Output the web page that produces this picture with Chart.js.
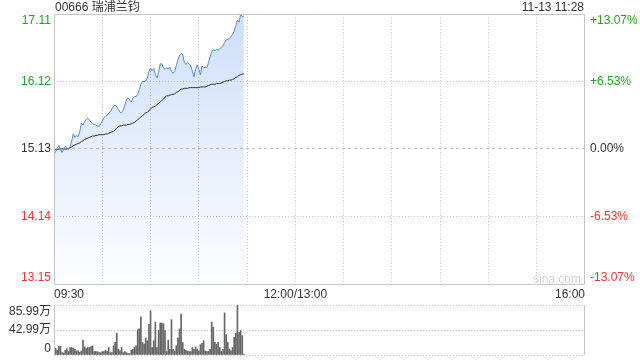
<!DOCTYPE html>
<html>
<head>
<meta charset="utf-8">
<script src="https://cdn.jsdelivr.net/npm/chart.js@4/dist/chart.umd.min.js"></script>
<style>
  body { margin: 0; background: #fff; }
  #wrap { position: relative; width: 640px; height: 360px; font-family: "Liberation Sans", Arial, "Noto Sans CJK SC", sans-serif; color: #333; }
  canvas { position: absolute; left: 0; }
  .txt { position: absolute; font-size: 12px; line-height: 14px; white-space: nowrap; }
</style>
</head>
<body>
<div id="wrap">
  <canvas id="priceChart" width="640" height="300" style="top:0"></canvas>
  <canvas id="volChart" width="640" height="60" style="top:300px"></canvas>
  <div class="txt" style="left:55px; top:0">00666 瑞浦兰钧</div>
  <div class="txt" style="right:56px; top:0">11-13 11:28</div>
  <div class="txt" style="left:533px; top:272px; color:#d4d4d4">sina.com</div>
</div>
<script>
// 每分钟成交价（09:30 起）
var prices = [
  15.05, 15.09, 15.14, 15.18, 15.13, 15.08, 15.12, 15.17, 15.15, 15.12,
  15.16, 15.25, 15.35, 15.30, 15.33, 15.31, 15.38, 15.51, 15.48, 15.53,
  15.56, 15.58, 15.56, 15.52, 15.50, 15.49, 15.48, 15.47, 15.46, 15.50,
  15.54, 15.59, 15.61, 15.62, 15.66, 15.67, 15.72, 15.76, 15.77, 15.75,
  15.71, 15.67, 15.66, 15.70, 15.77, 15.85, 15.88, 15.85, 15.82, 15.88,
  15.90, 15.90, 15.93, 16.00, 16.08, 16.12, 16.12, 16.13, 16.17, 16.27,
  16.32, 16.28, 16.31, 16.22, 16.17, 16.25, 16.38, 16.38, 16.32, 16.30,
  16.32, 16.30, 16.33, 16.27, 16.24, 16.27, 16.35, 16.44, 16.50, 16.53,
  16.52, 16.40, 16.37, 16.40, 16.38, 16.35, 16.27, 16.19, 16.30, 16.36,
  16.30, 16.22, 16.35, 16.32, 16.33, 16.32, 16.40, 16.48, 16.55, 16.59,
  16.57, 16.59, 16.58, 16.60, 16.62, 16.64, 16.69, 16.73, 16.74, 16.75,
  16.78, 16.81, 16.86, 16.94, 17.02, 16.99, 17.11, 17.07, 17.08
]

// 均价
var avgPrices = [
  15.12, 15.12, 15.12, 15.13, 15.13, 15.13, 15.13, 15.13, 15.13, 15.14,
  15.15, 15.16, 15.18, 15.19, 15.20, 15.21, 15.22, 15.24, 15.25, 15.27,
  15.28, 15.29, 15.30, 15.31, 15.32, 15.32, 15.33, 15.33, 15.34, 15.34,
  15.34, 15.34, 15.35, 15.35, 15.36, 15.37, 15.38, 15.39, 15.41, 15.44,
  15.46, 15.47, 15.47, 15.48, 15.48, 15.48, 15.49, 15.49, 15.50, 15.51,
  15.52, 15.54, 15.56, 15.58, 15.60, 15.62, 15.64, 15.66, 15.67, 15.69,
  15.72, 15.74, 15.75, 15.76, 15.78, 15.80, 15.82, 15.84, 15.86, 15.89,
  15.91, 15.91, 15.92, 15.93, 15.93, 15.94, 15.96, 15.97, 15.99, 16.01,
  16.01, 16.02, 16.02, 16.02, 16.03, 16.03, 16.03, 16.03, 16.03, 16.03,
  16.03, 16.04, 16.04, 16.04, 16.04, 16.05, 16.06, 16.07, 16.08, 16.08,
  16.08, 16.09, 16.09, 16.09, 16.10, 16.11, 16.12, 16.13, 16.13, 16.14,
  16.14, 16.15, 16.16, 16.18, 16.19, 16.21, 16.22, 16.23, 16.23
]

// 成交量（万股）
var volumes = [
  5.9, 11.7, 8.0, 15.2, 15.2, 4.1, 3.5, 8.2, 11.1, 6.0,
  12.9, 12.9, 11.7, 9.9, 7.0, 7.0, 4.7, 7.0, 25.7, 14.0,
  11.1, 12.9, 12.9, 14.6, 15.8, 5.9, 5.9, 5.9, 4.1, 4.1,
  5.9, 5.9, 8.2, 5.9, 12.9, 4.1, 4.1, 15.8, 21.6, 37.4,
  9.9, 7.0, 12.9, 4.1, 5.9, 4.1, 3.0, 2.3, 8.2, 9.9,
  12.9, 15.8, 43.3, 45.0, 65.5, 21.6, 18.7, 29.3, 24.6, 52.7,
  76.0, 12.9, 24.6, 56.7, 12.9, 42.1, 55.0, 55.0, 53.8, 42.1,
  5.9, 25.7, 9.9, 60.8, 9.9, 7.0, 15.8, 29.3, 45.0, 70.2,
  21.6, 9.9, 8.2, 7.0, 5.9, 5.9, 12.9, 9.9, 14.0, 10.0,
  7.0, 17.6, 19.9, 24.6, 7.0, 5.9, 5.9, 9.9, 56.7, 48.0,
  21.6, 18.7, 21.6, 12.9, 5.9, 9.9, 72.5, 35.1, 21.6, 9.9,
  7.0, 12.9, 30.4, 37.4, 85.99, 39.2, 42.1, 33.3, 1.5
]

// 坐标轴刻度
var priceTicks = [13.15, 14.14, 15.13, 16.12, 17.11]
var priceLabels = ['13.15', '14.14', '15.13', '16.12', '17.11']
var pctLabels = ['-13.07%', '-6.53%', '0.00%', '+6.53%', '+13.07%']
var volTicks = [0, 42.99, 85.99]
var volLabels = ['0', '42.99万', '85.99万']
var timeTickPos = [0, 150, 330]
var timeLabels = ['09:30', '12:00/13:00', '16:00']
var prevClose = 15.13
var totalMinutes = 330

var green = '#1ea51e'
var red = '#f03232'
var gridColor = '#c9c9c9'
var fontStr = '12px "Liberation Sans", Arial, "Noto Sans CJK SC", sans-serif'

function toPoints(arr) {
  return arr.map(function (v, i) { return { x: i, y: v } })
}

function setTicks(list) {
  return function (scale) {
    scale.ticks = list.map(function (v) { return { value: v } })
  }
}

function valueColor(v) {
  if (Math.abs(v - prevClose) < 0.001) return '#333'
  return v > prevClose ? green : red
}

// 画四周实线边框
var framePlugin = {
  id: 'frame',
  afterDraw: function (chart, args, opts) {
    var a = chart.chartArea
    var c = chart.ctx
    c.save()
    c.strokeStyle = '#c4c4c4'
    c.lineWidth = 1
    c.beginPath()
    if (opts.sides === 'lr') {
      c.moveTo(Math.round(a.left) + 0.5, a.top)
      c.lineTo(Math.round(a.left) + 0.5, a.bottom)
      c.moveTo(Math.round(a.right) - 0.5, a.top)
      c.lineTo(Math.round(a.right) - 0.5, a.bottom)
    } else {
      c.rect(Math.round(a.left) + 0.5, Math.round(a.top) + 0.5,
        Math.round(a.right - a.left) - 1, Math.round(a.bottom - a.top))
    }
    c.stroke()
    c.restore()
  }
}

// 两侧刻度文字，首尾收进图内
var sideLabelPlugin = {
  id: 'sideLabels',
  afterDraw: function (chart, args, opts) {
    var a = chart.chartArea
    var scale = chart.scales.y
    var c = chart.ctx
    c.save()
    c.font = fontStr
    c.textBaseline = 'middle'
    opts.values.forEach(function (v, i) {
      var y = scale.getPixelForValue(v)
      y = Math.min(Math.max(y, a.top + 7), a.bottom - 6)
      c.fillStyle = opts.colored ? valueColor(v) : '#333'
      c.textAlign = 'right'
      c.fillText(opts.left[i], a.left - 3, y)
      if (opts.right) {
        c.textAlign = 'left'
        c.fillText(opts.right[i], a.right + 5, y)
      }
    })
    c.restore()
  }
}

var baseFont = { family: '"Liberation Sans", Arial, "Noto Sans CJK SC", sans-serif', size: 12 }

var pctx = document.getElementById('priceChart').getContext('2d')
var priceChart = new Chart(pctx, {
  type: 'line',
  data: {
    datasets: [
      {
        label: '价格',
        data: toPoints(prices),
        borderColor: '#4f8ae6',
        borderWidth: 1,
        pointRadius: 0,
        fill: 'start',
        backgroundColor: function (context) {
          var area = context.chart.chartArea
          if (!area) return 'rgba(74,134,232,0.15)'
          var g = context.chart.ctx.createLinearGradient(0, area.top, 0, area.bottom)
          g.addColorStop(0, 'rgba(74,134,232,0.27)')
          g.addColorStop(1, 'rgba(74,134,232,0.01)')
          return g
        }
      },
      {
        label: '均价',
        data: toPoints(avgPrices),
        borderColor: '#2b2b2b',
        borderWidth: 1,
        pointRadius: 0,
        fill: false
      }
    ]
  },
  options: {
    responsive: false,
    animation: false,
    layout: { padding: { top: 14, left: 0, right: 55, bottom: 0 } },
    plugins: {
      legend: { display: false },
      tooltip: { enabled: false },
      filler: { drawTime: 'beforeDatasetsDraw' },
      frame: {},
      sideLabels: { values: priceTicks, left: priceLabels, right: pctLabels, colored: true }
    },
    scales: {
      x: {
        type: 'linear',
        min: 0,
        max: totalMinutes,
        afterBuildTicks: function (scale) {
          var t = []
          for (var m = 0; m <= totalMinutes; m += 30) t.push({ value: m })
          scale.ticks = t
        },
        afterFit: function (scale) { scale.height = 16 },
        ticks: {
          autoSkip: false,
          maxRotation: 0,
          padding: 3,
          align: 'inner',
          color: '#333',
          font: baseFont,
          callback: function (v) {
            var i = timeTickPos.indexOf(v)
            return i >= 0 ? timeLabels[i] : ''
          }
        },
        grid: {
          drawTicks: false,
          color: function (ctx) {
            var v = ctx.tick && ctx.tick.value
            return (v === 0 || v === totalMinutes) ? 'rgba(0,0,0,0)' : gridColor
          }
        },
        border: { display: false, dash: [1, 2] }
      },
      y: {
        position: 'left',
        min: priceTicks[0],
        max: priceTicks[priceTicks.length - 1],
        afterBuildTicks: setTicks(priceTicks),
        afterFit: function (scale) { scale.width = 54 },
        ticks: { display: false },
        grid: {
          drawTicks: false,
          color: function (ctx) {
            var v = ctx.tick && ctx.tick.value
            return (v === priceTicks[0] || v === priceTicks[priceTicks.length - 1]) ? 'rgba(0,0,0,0)' : gridColor
          }
        },
        border: {
          display: false,
          dash: function (ctx) {
            return ctx.tick && Math.abs(ctx.tick.value - prevClose) < 0.001 ? [3, 3] : [1, 2]
          }
        }
      }
    }
  },
  plugins: [framePlugin, sideLabelPlugin]
})

var vctx = document.getElementById('volChart').getContext('2d')
var volChart = new Chart(vctx, {
  type: 'bar',
  data: {
    datasets: [
      {
        label: '成交量',
        data: toPoints(volumes),
        backgroundColor: '#666666',
        barThickness: 1
      }
    ]
  },
  options: {
    responsive: false,
    animation: false,
    layout: { padding: { top: 5, left: 0, right: 55, bottom: 5 } },
    plugins: {
      legend: { display: false },
      tooltip: { enabled: false },
      frame: { sides: 'lr' },
      sideLabels: { values: volTicks, left: volLabels, colored: false }
    },
    scales: {
      x: {
        type: 'linear',
        min: 0,
        max: totalMinutes,
        offset: false,
        display: false
      },
      y: {
        min: volTicks[0],
        max: volTicks[volTicks.length - 1],
        afterBuildTicks: setTicks(volTicks),
        afterFit: function (scale) { scale.width = 54 },
        ticks: { display: false },
        grid: { drawTicks: false, color: gridColor },
        border: { display: false, dash: [1, 2] }
      }
    }
  },
  plugins: [framePlugin, sideLabelPlugin]
})
</script>
</body>
</html>
